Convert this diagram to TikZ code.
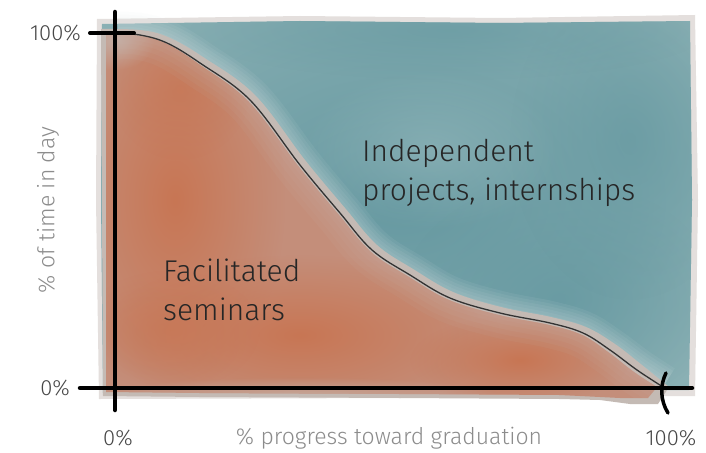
\documentclass[tikz,border=0pt]{standalone}
\usepackage{fontspec}
\setmainfont{Fira Sans Light}
\usetikzlibrary{fadings}
\definecolor{teal1}{RGB}{102,153,161}
\definecolor{teal2}{RGB}{138,176,180}
\definecolor{org1}{RGB}{200,118,84}
\definecolor{org2}{RGB}{196,142,122}
\definecolor{haze}{RGB}{196,186,180}
\definecolor{lbl}{RGB}{70,70,70}
\definecolor{axlbl}{RGB}{140,140,140}
\tikzfading[name=softblob, inner color=transparent!0, outer color=transparent!100]
\tikzset{
  axis/.style={line width=4.5pt, line cap=round, black},
  curveln/.style={line width=1.3pt, black!80},
  blob/.style={path fading=softblob},
  crvpath/.style={insert path={plot[smooth, tension=0.6] coordinates {(118,34) (140,35) (167,43) (200,63) (250,100) (300,165) (340,213) (372,250) (410,275) (450,298) (500,313) (550,323) (583,333) (610,350) (637,370) (663,387)}}},
  halo/.style={line width=#1, opacity=0.07, crvpath},
  bigtxt/.style={font=\fontsize{30}{39}\selectfont, text=black!85, align=left, anchor=base west, inner sep=0pt},
  ticktxt/.style={font=\fontsize{22}{24}\selectfont, text=lbl, inner sep=0pt},
  axtxt/.style={font=\fontsize{23}{26}\selectfont, text=axlbl, inner sep=0pt}
}
\begin{document}
\begin{tikzpicture}[x=1pt,y=-1pt]
\useasboundingbox (0,0) rectangle (706,452);
\fill[white] (0,0) rectangle (706,452);
% haze border
\fill[haze, opacity=0.45] (97,19) -- (300,16) -- (500,18) -- (695,15) -- (698,200) -- (695,396) -- (400,398) -- (99,399) -- (96,200) -- cycle;
% teal field
\begin{scope}
\clip (102,24) -- (300,21) -- (500,23) -- (690,21) -- (692,200) -- (689,390) -- (400,392) -- (103,393) -- (101,200) -- cycle;
\fill[teal2] (0,0) rectangle (706,452);
\fill[teal1, blob] (400,200) ellipse (380 and 260);
\fill[teal1, blob, opacity=0.8] (560,300) ellipse (160 and 120);
\fill[teal1, blob, opacity=0.7] (630,140) ellipse (120 and 160);
\fill[teal1, blob, opacity=0.6] (450,30) ellipse (260 and 50);
\fill[teal2!80!white, blob, opacity=0.45] (430,150) ellipse (130 and 80);
\end{scope}
% halo on teal side of curve
\begin{scope}
\clip (100,10) -- (100,34) -- plot[smooth, tension=0.6] coordinates {(118,34) (140,35) (167,43) (200,63) (250,100) (300,165) (340,213) (372,250) (410,275) (450,298) (500,313) (550,323) (583,333) (610,350) (637,370) (663,387)} -- (700,388) -- (700,10) -- cycle;
\foreach \w in {44,38,32,26,20,14,8} {\draw[white!75!teal2, halo=\w pt];}
\end{scope}
% orange region with haze rim
\fill[haze] plot[smooth, tension=0.6] coordinates {(101,29) (140,30) (168,37) (203,57) (255,95) (305,160) (345,208) (377,245) (413,269) (453,292) (501,307) (551,317) (586,327) (615,344) (642,365) (669,387)}
  -- (658,404) -- (630,404) -- (600,400) -- (560,399) -- (400,398) -- (200,397) -- (103,396) -- cycle;
\begin{scope}
\clip plot[smooth, tension=0.6] coordinates {(106,35) (140,36) (167,44) (200,65) (249,102) (299,167) (339,215) (371,252) (409,277) (449,300) (499,315) (549,325) (582,335) (608,352) (634,372) (657,387)}
  -- (648,398) -- (620,398) -- (560,395) -- (400,394) -- (200,393) -- (106,392) -- cycle;
\fill[org2] (0,0) rectangle (706,452);
\fill[org1, blob] (175,200) ellipse (110 and 190);
\fill[org1, blob] (300,335) ellipse (200 and 80);
\fill[org1, blob, opacity=0.7] (170,330) ellipse (90 and 60);
\fill[org1, blob] (520,360) ellipse (110 and 45);
\fill[org1, blob, opacity=0.7] (180,90) ellipse (70 and 70);
\foreach \w in {50,40,30,20,12} {\draw[haze, halo=\w pt];}
\fill[haze, blob, opacity=0.7] (115,40) ellipse (40 and 30);
\fill[haze, blob, opacity=0.6] (300,395) ellipse (200 and 18);
\end{scope}
% curve
\draw[curveln, crvpath];
% axes
\coordinate (ytop) at (115,12);
\coordinate (ybot) at (115,410);
\coordinate (xl) at (80,388);
\coordinate (xr) at (692,388);
\coordinate (tl) at (90,33);
\coordinate (tr) at (134,33);
\draw[axis] (ytop) -- (ybot);
\draw[axis] (xl) -- (xr);
\draw[axis, line width=4pt] (tl) -- (tr);
\coordinate (t1a) at (666,373);
\coordinate (t1b) at (668,413);
\draw[axis, line width=3.5pt] (t1a) .. controls (660,385) and (660,400) .. (t1b);
% labels
\node[ticktxt, anchor=east] (l100) at (81,33) {100\%};
\node[ticktxt, anchor=east] (l0) at (70,388) {0\%};
\node[ticktxt] (x0) at (118,438) {0\%};
\node[ticktxt] (x100) at (671,438) {100\%};
\node[axtxt] (xlab) at (389,438) {\% progress toward graduation};
\node[axtxt, rotate=90] (ylab) at (48,210) {\% of time in day};
\node[bigtxt] (ind) at (362,200) {Independent\\projects, internships};
\node[bigtxt] (fac) at (163,320) {Facilitated\\seminars};
\end{tikzpicture}
\end{document}
